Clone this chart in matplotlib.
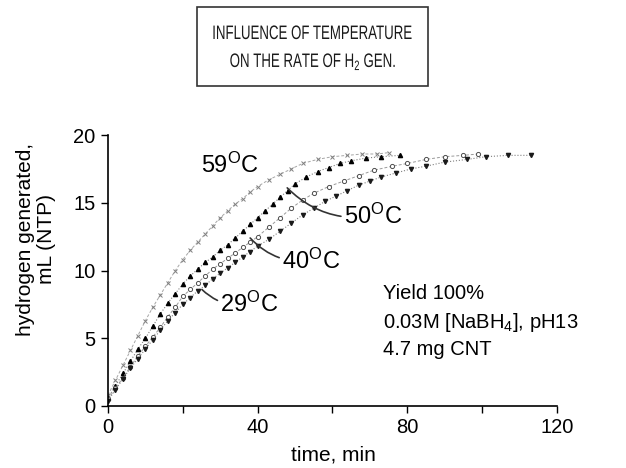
import numpy as np
import matplotlib
matplotlib.use('Agg')
import matplotlib.pyplot as plt
from matplotlib.patches import Rectangle, PathPatch
from matplotlib.textpath import TextPath
from matplotlib.font_manager import FontProperties
from matplotlib.transforms import Affine2D, IdentityTransform

plt.rcParams['font.family'] = ['Liberation Sans', 'DejaVu Sans']
plt.rcParams['mathtext.fontset'] = 'custom'
plt.rcParams['mathtext.rm'] = 'Liberation Sans'
plt.rcParams['mathtext.it'] = 'Liberation Sans'

# hydrogen volume (mL, NTP) vs time (min)
t59 = [0, 2, 4, 6, 8, 10, 12, 14, 16, 18, 20, 22, 24, 26, 28, 30, 32, 34, 36, 38, 40,
       43, 46, 49, 52, 56, 60, 64, 68, 72, 75]
v59 = [0.8, 1.9, 3.0, 4.1, 5.2, 6.3, 7.3, 8.2, 9.1, 10.0, 10.8, 11.5, 12.1, 12.7, 13.3,
       13.9, 14.4, 14.9, 15.3, 15.8, 16.2, 16.7, 17.1, 17.5, 17.9, 18.2, 18.4, 18.5,
       18.6, 18.6, 18.7]

t50 = [0, 2, 4, 6, 8, 10, 12, 14, 16, 18, 20, 22, 24, 26, 28, 30, 32, 34, 36, 38, 40,
       42, 44, 46, 48, 50, 53, 56, 59, 62, 65, 69, 73, 78]
v50 = [0.6, 1.5, 2.4, 3.3, 4.2, 5.0, 5.9, 6.8, 7.6, 8.3, 9.0, 9.6, 10.1, 10.6, 11.0,
       11.5, 11.9, 12.4, 12.9, 13.4, 13.9, 14.4, 14.9, 15.4, 15.9, 16.4, 16.9, 17.3,
       17.6, 17.9, 18.1, 18.3, 18.4, 18.5]

t40 = [0, 2, 4, 6, 8, 10, 12, 14, 16, 18, 20, 22, 24, 26, 28, 30, 32, 34, 36, 38, 40,
       43, 46, 49, 52, 55, 59, 63, 67, 71, 76, 80, 85, 90, 95, 99]
v40 = [0.5, 1.3, 2.1, 2.9, 3.7, 4.4, 5.1, 5.8, 6.6, 7.3, 8.1, 8.6, 9.1, 9.6, 10.1,
       10.5, 10.9, 11.3, 11.7, 12.1, 12.5, 13.2, 13.9, 14.6, 15.2, 15.7, 16.2, 16.6,
       17.0, 17.4, 17.7, 17.9, 18.2, 18.4, 18.5, 18.6]

t29 = [0, 2, 4, 6, 8, 10, 12, 14, 16, 18, 20, 22, 24, 26, 28, 30, 32, 34, 36, 38, 40,
       43, 46, 49, 52, 55, 58, 61, 64, 67, 70, 73, 77, 81, 85, 90, 96, 101, 107, 113]
v29 = [0.4, 1.2, 2.0, 2.8, 3.5, 4.2, 4.9, 5.6, 6.3, 6.9, 7.5, 8.0, 8.5, 8.9, 9.4, 9.8,
       10.2, 10.6, 11.0, 11.4, 11.8, 12.3, 12.9, 13.5, 14.1, 14.6, 15.1, 15.5, 15.9,
       16.3, 16.6, 16.9, 17.2, 17.5, 17.7, 18.0, 18.2, 18.4, 18.5, 18.5]

W, H = 626, 468
fig = plt.figure(figsize=(6.26, 4.68), dpi=100)
ax = fig.add_axes([0.1725, 0.1325, 0.7173, 0.579])

ax.plot(t59, v59, linestyle=(0, (3, 2)), color='0.65', lw=0.7,
        marker='x', ms=3.5, mec='0.5', mew=0.7)
ax.plot(t50, v50, linestyle=':', color='0.5', lw=0.8,
        marker='^', ms=3, mfc='black', mec='black')
ax.plot(t40, v40, linestyle=(0, (3, 2)), color='0.6', lw=0.7,
        marker='o', ms=3, mfc='white', mec='0.3', mew=0.7)
ax.plot(t29, v29, linestyle=':', color='0.5', lw=0.8,
        marker='v', ms=3, mfc='0.1', mec='0.1')

ax.set_xlim(0, 120)
ax.set_ylim(0, 20)
ax.set_xticks([0, 40, 80, 120])
ax.set_xticks([20, 60, 100], minor=True)
ax.set_yticks([0, 5, 10, 15, 20])
ax.tick_params(axis='both', which='both', direction='out', length=5, width=1,
               labelsize=14.5, pad=4)
ax.spines['top'].set_visible(False)
ax.spines['right'].set_visible(False)
for s in ['left', 'bottom']:
    ax.spines[s].set_linewidth(1.2)

# curve labels with leader lines
lab = dict(fontsize=17, color='black')
arrow = dict(arrowstyle='-', color='0.2', lw=1.2,
             connectionstyle='arc3,rad=-0.25', shrinkA=0, shrinkB=0)
ax.text(32.6, 17.8, r'59$^{\mathrm{O}}$C', ha='center', va='center', **lab)
ax.annotate(r'50$^{\mathrm{O}}$C', xy=(47.9, 16.1), xytext=(63.0, 14.0),
            ha='left', va='center', arrowprops=arrow, **lab)
ax.annotate(r'40$^{\mathrm{O}}$C', xy=(38.0, 12.4), xytext=(46.5, 10.7),
            ha='left', va='center', arrowprops=arrow, **lab)
ax.annotate(r'29$^{\mathrm{O}}$C', xy=(25.1, 8.6), xytext=(30.0, 7.5),
            ha='left', va='center', arrowprops=arrow, **lab)

ax.text(73.5, 9.0, 'Yield 100%\n0.03M [NaBH$_4$], pH13\n4.7 mg CNT',
        ha='left', va='top', fontsize=14.5, linespacing=1.45)

fig.text(36 / W, 1 - 239 / H, 'hydrogen generated,\nmL (NTP)', rotation=90,
         ha='center', va='center', multialignment='center', fontsize=15,
         linespacing=1.1)
fig.text(333 / W, 1 - 455 / H, 'time, min', ha='center', va='center', fontsize=15)

# title box with condensed lettering
fig.patches.append(Rectangle((197 / W, 1 - 86 / H), 231 / W, 79 / H,
                             transform=fig.transFigure, fill=False,
                             edgecolor='0.2', lw=1.2))
fp = FontProperties(family='Liberation Sans')


def narrow_text(s, xc, baseline, size_px, sx):
    tp = TextPath((0, 0), s, size=size_px, prop=fp)
    bb = tp.get_extents()
    tr = (Affine2D().translate(-(bb.x0 + bb.x1) / 2, 0)
          .scale(sx, 1).translate(xc, H - baseline))
    fig.patches.append(PathPatch(tr.transform_path(tp), facecolor='0.1',
                                 edgecolor='none', transform=IdentityTransform()))


narrow_text('INFLUENCE OF TEMPERATURE', 312.5, 39, 19.5, 0.68)
narrow_text(r'ON THE RATE OF H$_2$ GEN.', 312.5, 67, 19.5, 0.68)

fig.savefig('out.png', dpi=100)
